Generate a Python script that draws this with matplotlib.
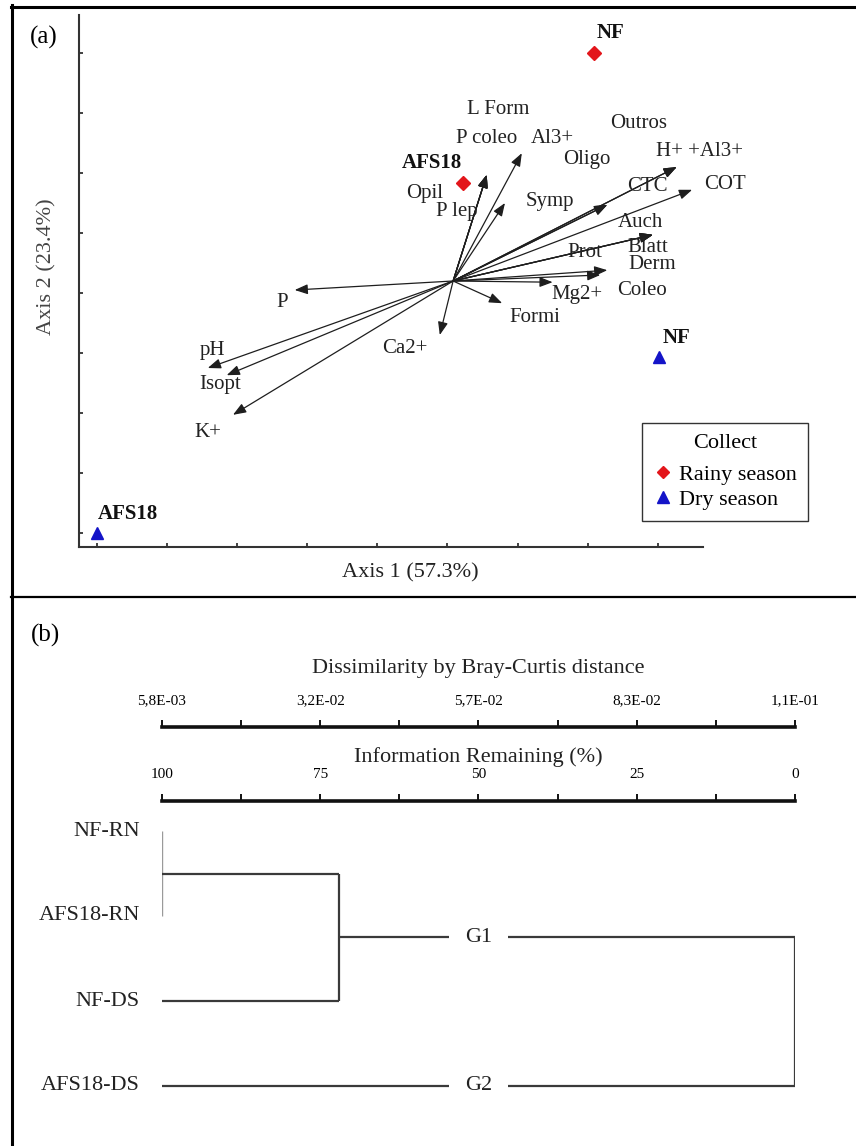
import matplotlib
matplotlib.use('Agg')
import matplotlib.pyplot as plt
from matplotlib.lines import Line2D
import numpy as np

plt.rcParams['font.family'] = ['Liberation Serif', 'DejaVu Serif']

W, H, DPI = 856, 1146, 100

# ---------------- Panel (a) data : PCA biplot ----------------
site_names = ['NF', 'AFS18', 'NF', 'AFS18']
site_season = ['Rainy season', 'Rainy season', 'Dry season', 'Dry season']
site_x = [7.09, 5.22, 8.02, 0.00]
site_y = [8.00, 5.83, 2.93, 0.00]

origin = (5.08, 4.20)
var_names = ['L Form', 'P coleo', 'Al3+', 'Symp', 'P lep', 'Opil', 'Outros',
             'H+ +Al3+', 'Oligo', 'CTC', 'COT', 'Auch', 'Blatt', 'Prot',
             'Derm', 'Coleo', 'Mg2+', 'Formi', 'P', 'pH', 'Isopt', 'K+', 'Ca2+']
var_x = [5.56, 5.56, 6.06, 5.82, 5.56, 5.56, 8.27, 8.27, 7.28, 7.28, 8.49,
         7.93, 7.93, 7.93, 7.28, 7.18, 6.50, 5.78, 2.82, 1.58, 1.85, 1.94, 4.89]
var_y = [5.97, 5.97, 6.33, 5.50, 5.97, 5.97, 6.10, 6.10, 5.47, 5.47, 5.72,
         4.97, 4.97, 4.97, 4.38, 4.30, 4.18, 3.83, 4.05, 2.75, 2.63, 1.97, 3.30]

# label placement (layout)
var_lab_pos = [(5.72, 7.05), (5.56, 6.58), (6.49, 6.58), (6.46, 5.52), (5.14, 5.35),
               (4.68, 5.65), (7.72, 6.83), (8.60, 6.35), (6.99, 6.22), (7.85, 5.77),
               (8.96, 5.80), (7.75, 5.18), (7.86, 4.75), (6.96, 4.68), (7.92, 4.47),
               (7.77, 4.05), (6.85, 3.97), (6.25, 3.60), (2.64, 3.85), (1.64, 3.05),
               (1.75, 2.47), (1.58, 1.67), (4.39, 3.08)]
site_lab_off = [(3, 20, 'left'), (-1, 20, 'right'), (3, 19, 'left'), (1, 19, 'left')]

axis1_label = 'Axis 1 (57.3%)'
axis2_label = 'Axis 2 (23.4%)'
x_ticks = list(range(0, 9))
y_ticks = list(range(0, 9))

# ---------------- Panel (b) data : dendrogram ----------------
leaf_labels = ['NF-RN', 'AFS18-RN', 'NF-DS', 'AFS18-DS']
# merges: (left member, right member, information remaining %)
merges = [(0, 1, 100.0), (4, 2, 72.0), (5, 3, 0.0)]
group_labels = ['G1', 'G2']
ir_ticks = [100, 75, 50, 25, 0]
dis_tick_labels = ['5,8E-03', '3,2E-02', '5,7E-02', '8,3E-02', '1,1E-01']
dis_min, dis_max = 0.0058, 0.11

season_style = {'Rainy season': dict(marker='D', color='#E3161B', ms=7),
                'Dry season': dict(marker='^', color='#1414C8', ms=9)}

fig = plt.figure(figsize=(W / DPI, H / DPI), dpi=DPI)

def fx(px):
    return px / W

def fy(py):
    return 1 - py / H

# frame lines
fig.add_artist(Line2D([fx(11.5), fx(11.5)], [fy(5), 0], color='black', lw=2.2))
fig.add_artist(Line2D([fx(10.5), 1], [fy(6.5), fy(6.5)], color='black', lw=2.2))
fig.add_artist(Line2D([fx(10.5), 1], [fy(597), fy(597)], color='black', lw=1.6))

fig.text(fx(44), fy(37), '(a)', fontsize=18, ha='center', va='center')
fig.text(fx(45), fy(635), '(b)', fontsize=18, ha='center', va='center')

# ---------------- Panel (a) ----------------
ax = fig.add_axes([fx(79), fy(547), fx(703) - fx(79), fy(15) - fy(547)])
ax.set_xlim(-0.257, 8.645)
ax.set_ylim(-0.233, 8.633)
for s in ['top', 'right']:
    ax.spines[s].set_visible(False)
for s in ['left', 'bottom']:
    ax.spines[s].set_color('#333333')
    ax.spines[s].set_linewidth(1.5)
ax.set_xticks(x_ticks)
ax.set_yticks(y_ticks)
ax.tick_params(direction='in', length=3, width=1.3, color='#333333',
               labelleft=False, labelbottom=False)

for vx, vy in zip(var_x, var_y):
    ax.annotate('', xy=(vx, vy), xytext=origin,
                arrowprops=dict(arrowstyle='-|>,head_length=0.65,head_width=0.25',
                                color='#1e1e1e', lw=0.9, mutation_scale=12,
                                shrinkA=0, shrinkB=0))
for name, (lx, ly) in zip(var_names, var_lab_pos):
    ax.text(lx, ly, name, fontsize=15, ha='center', va='center', color='#222222',
            clip_on=False)

for name, season, sx, sy, (ox, oy, ha) in zip(site_names, site_season, site_x,
                                               site_y, site_lab_off):
    st = season_style[season]
    ax.plot(sx, sy, linestyle='none', marker=st['marker'], color=st['color'],
            ms=st['ms'], clip_on=False, zorder=5)
    ax.annotate(name, (sx, sy), xytext=(ox, oy), textcoords='offset pixels',
                fontsize=15, fontweight='bold', ha=ha, va='center',
                color='#111111')

handles = [Line2D([], [], linestyle='none', marker=season_style[k]['marker'],
                  color=season_style[k]['color'], ms=season_style[k]['ms'] - 1,
                  label=k) for k in ['Rainy season', 'Dry season']]
leg = ax.legend(handles=handles, title='Collect', loc='upper left',
                bbox_to_anchor=(fx(642), fy(423)), bbox_transform=fig.transFigure,
                fontsize=16, title_fontsize=16, frameon=True, fancybox=False,
                framealpha=1, edgecolor='#333333', borderpad=0.5,
                handlelength=0.9, handletextpad=0.25, labelspacing=0.2,
                borderaxespad=0)
leg.get_frame().set_linewidth(1.0)
leg._legend_box.sep = 8

ax.set_xlabel(axis1_label, fontsize=16, va='center', color='#222222')
ax.xaxis.set_label_coords(fx(410), fy(573), transform=fig.transFigure)
ax.set_ylabel(axis2_label, fontsize=16, va='center', color='#444444')
ax.yaxis.set_label_coords(fx(47), fy(267), transform=fig.transFigure)

# ---------------- Panel (b) ----------------
x0, x1 = fx(162), fx(795)

def scale_axis(ypx, xlim, ticks, labels, minor, title, title_ypx):
    a = fig.add_axes([x0, fy(ypx + 1), x1 - x0, 1.5 / H])
    a.set_xlim(*xlim)
    a.set_ylim(0, 1)
    for s in ['bottom', 'left', 'right']:
        a.spines[s].set_visible(False)
    a.spines['top'].set_linewidth(2.6)
    a.spines['top'].set_color('#111111')
    a.patch.set_alpha(0)
    a.set_yticks([])
    a.xaxis.tick_top()
    a.set_xticks(ticks)
    a.set_xticklabels(labels)
    a.set_xticks(minor, minor=True)
    a.tick_params(axis='x', which='both', direction='out', length=5, width=1.4,
                  pad=9, labelsize=11, color='#111111')
    a.xaxis.set_label_position('top')
    a.set_xlabel(title, fontsize=16, va='center', color='#222222')
    a.xaxis.set_label_coords(0.5 * (x0 + x1), fy(title_ypx),
                             transform=fig.transFigure)
    return a

dis_ticks = np.linspace(dis_min, dis_max, len(dis_tick_labels))
dis_minor = (dis_ticks[:-1] + dis_ticks[1:]) / 2
scale_axis(727, (dis_min, dis_max), dis_ticks, dis_tick_labels, dis_minor,
           'Dissimilarity by Bray-Curtis distance', 669)
ir_minor = [87.5, 62.5, 37.5, 12.5]
scale_axis(801, (100, 0), ir_ticks, [str(t) for t in ir_ticks], ir_minor,
           'Information Remaining (%)', 757)

axd = fig.add_axes([x0, fy(1120), x1 - x0, fy(810) - fy(1120)])
axd.set_xlim(100, 0)
axd.set_ylim(3.0 + (1120 - 1086) / 85, -(831 - 810) / 85)
axd.axis('off')

# node positions from leaf order and merge heights
node_y = list(range(len(leaf_labels)))
node_h = [100.0] * len(leaf_labels)
line_col = '#3a3a3a'
for k, (a_, b_, h) in enumerate(merges):
    ya, yb = node_y[a_], node_y[b_]
    vcol = '#9a9a9a' if k == 0 else line_col
    vlw = 1.0 if k == 0 else 1.6
    axd.plot([node_h[a_], h], [ya, ya], color=line_col, lw=1.6, solid_capstyle='butt')
    axd.plot([node_h[b_], h], [yb, yb], color=line_col, lw=1.6, solid_capstyle='butt')
    axd.plot([h, h], [ya, yb], color=vcol, lw=vlw, solid_capstyle='butt')
    node_y.append((ya + yb) / 2)
    node_h.append(h)

for i, name in enumerate(leaf_labels):
    axd.annotate(name, (100, i), xytext=(-22, 0), textcoords='offset pixels',
                 fontsize=16, ha='right', va='center', color='#222222',
                 annotation_clip=False)

final = merges[-1]
for g, node in zip(group_labels, [final[0], final[1]]):
    axd.text(50, node_y[node], g, fontsize=16, ha='center', va='center',
             color='#222222',
             bbox=dict(boxstyle='square,pad=0.7', facecolor='white',
                       edgecolor='none'))

fig.savefig('out.png', dpi=DPI)
